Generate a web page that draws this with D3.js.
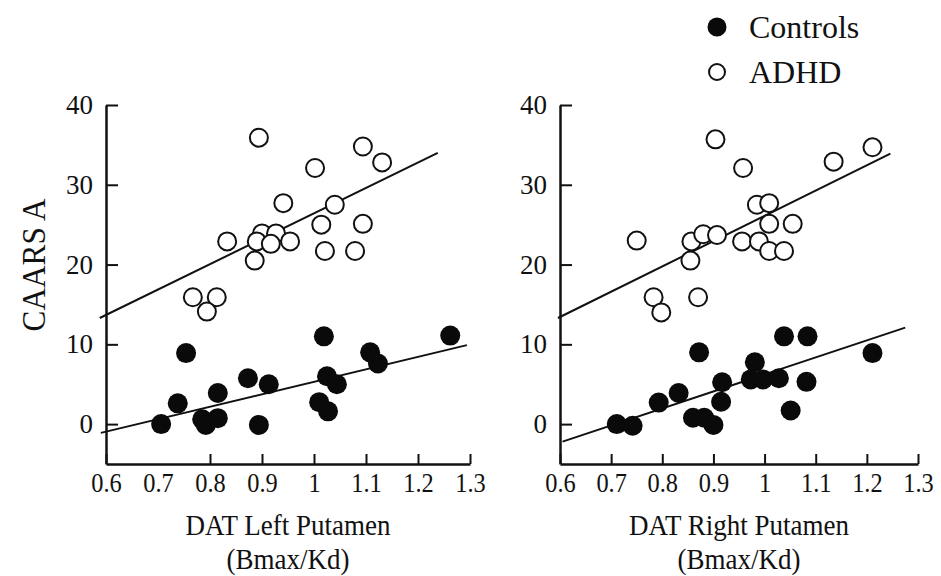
<!DOCTYPE html>
<html>
<head>
<meta charset="utf-8">
<script src="https://cdn.jsdelivr.net/npm/d3@7"></script>
<style>
  body { margin: 0; background: #fff; }
  svg text { font-family: "Liberation Serif", "Times New Roman", serif; fill: #111; }
</style>
</head>
<body>
<svg id="chart" width="941" height="576"></svg>
<script>
// values
var xTicks = [0.6, 0.7, 0.8, 0.9, 1.0, 1.1, 1.2, 1.3];
var xTickLabels = ['0.6', '0.7', '0.8', '0.9', '1', '1.1', '1.2', '1.3'];
var yTicks = [0, 10, 20, 30, 40];
var yTickLabels = ['0', '10', '20', '30', '40'];

// left putamen
var leftControlsX = [1.019, 1.262, 0.754, 1.108, 1.123, 0.873, 0.913, 1.025, 1.044, 0.815, 0.738, 1.010, 1.027, 0.706, 0.785, 0.815, 0.792, 0.894];
var leftControlsY = [11, 11.1, 8.9, 9, 7.6, 5.75, 5, 6, 5, 3.9, 2.6, 2.75, 1.6, 0, 0.6, 0.75, -0.1, -0.1];
var leftAdhdX = [0.894, 1.094, 1.131, 1.002, 0.941, 1.040, 1.014, 1.094, 0.833, 0.900, 0.890, 0.927, 0.917, 0.954, 0.886, 1.021, 1.079, 0.767, 0.813, 0.794];
var leftAdhdY = [35.9, 34.8, 32.8, 32.1, 27.7, 27.5, 25, 25.1, 22.9, 23.9, 22.9, 23.9, 22.6, 22.9, 20.5, 21.7, 21.7, 15.9, 15.9, 14.1];
var leftAdhdFit = [[0.588, 13.3], [1.238, 34.0]];
var leftControlsFit = [[0.59, -1.1], [1.294, 9.9]];

// right putamen
var rightControlsX = [1.038, 1.084, 0.872, 1.211, 0.981, 0.973, 0.997, 1.028, 1.082, 0.917, 0.915, 0.832, 0.793, 1.051, 0.711, 0.742, 0.860, 0.882, 0.900];
var rightControlsY = [11, 11, 9, 8.9, 7.75, 5.6, 5.6, 5.75, 5.3, 5.25, 2.8, 3.9, 2.7, 1.7, 0, -0.2, 0.8, 0.8, -0.1];
var rightAdhdX = [0.904, 1.211, 1.135, 0.958, 0.985, 1.009, 1.009, 1.055, 0.750, 0.857, 0.880, 0.907, 0.956, 0.989, 1.009, 1.038, 0.855, 0.783, 0.798, 0.870];
var rightAdhdY = [35.7, 34.7, 32.9, 32.1, 27.5, 27.7, 25.1, 25.1, 23, 22.9, 23.8, 23.7, 22.9, 22.9, 21.7, 21.7, 20.5, 15.9, 14, 15.9];
var rightAdhdFit = [[0.596, 13.3], [1.246, 33.9]];
var rightControlsFit = [[0.605, -2.2], [1.275, 12.1]];

var svg = d3.select('#chart');

var yScale = d3.scaleLinear().domain([-5, 40]).range([464, 105]);

// the figure's type is a little narrow, so squeeze it horizontally
function squeezedText(x, y, size, sx, str, rotate) {
    var g = svg.append('g')
        .attr('transform', 'translate(' + x + ',' + y + ')' + (rotate ? ' rotate(' + rotate + ')' : '') + ' scale(' + sx + ',1)');
    g.append('text')
        .attr('text-anchor', 'middle')
        .style('font-size', size + 'px')
        .text(str);
}

// y axis title
squeezedText(45, 265, 34, 0.92, 'CAARS A', -90);

function drawPanel(left, right, cx, cy, ax, ay, fitA, fitC, title, skipTicks) {
    var xScale = d3.scaleLinear().domain([0.6, 1.3]).range([left, right]);
    var g = svg.append('g');

    var yAxis = d3.axisLeft(yScale)
        .tickValues(yTicks)
        .tickFormat(function (d, i) { return yTickLabels[i]; })
        .tickSizeInner(-12)
        .tickSizeOuter(0)
        .tickPadding(13);
    var gy = g.append('g')
        .attr('transform', 'translate(' + left + ',0)')
        .call(yAxis);

    var xAxis = d3.axisBottom(xScale)
        .tickValues(xTicks)
        .tickFormat(function (d, i) { return xTickLabels[i]; })
        .tickSizeInner(-10)
        .tickSizeOuter(0)
        .tickPadding(8);
    var gx = g.append('g')
        .attr('transform', 'translate(0,' + yScale(-5) + ')')
        .call(xAxis);

    [gx, gy].forEach(function (a) {
        a.select('.domain').attr('stroke', '#111').attr('stroke-width', 2.5);
        a.selectAll('.tick line').attr('stroke', '#111').attr('stroke-width', 2);
        a.selectAll('.tick text').attr('fill', '#111');
    });
    gx.selectAll('.tick text').style('font-size', '28px').attr('transform', 'scale(0.87,1)');
    gy.selectAll('.tick text').style('font-size', '27px');
    gx.selectAll('.tick line').filter(function (d) { return skipTicks.indexOf(d) >= 0; }).remove();

    var line = d3.line()
        .x(function (d) { return xScale(d[0]); })
        .y(function (d) { return yScale(d[1]); });
    [fitA, fitC].forEach(function (f) {
        g.append('path')
            .attr('d', line(f))
            .attr('fill', 'none')
            .attr('stroke', '#111')
            .attr('stroke-width', 2);
    });

    g.append('g').selectAll('circle')
        .data(d3.range(ax.length))
        .enter()
        .append('circle')
        .attr('cx', function (i) { return xScale(ax[i]); })
        .attr('cy', function (i) { return yScale(ay[i]); })
        .attr('r', 9)
        .attr('fill', '#fff')
        .attr('stroke', '#111')
        .attr('stroke-width', 2);

    g.append('g').selectAll('circle')
        .data(d3.range(cx.length))
        .enter()
        .append('circle')
        .attr('cx', function (i) { return xScale(cx[i]); })
        .attr('cy', function (i) { return yScale(cy[i]); })
        .attr('r', 10)
        .attr('fill', '#0a0a0a');

    var mid = (left + right) / 2;
    squeezedText(mid, 535, 30, 0.9, title);
    squeezedText(mid, 569, 30, 0.9, '(Bmax/Kd)');
}

drawPanel(106, 470, leftControlsX, leftControlsY, leftAdhdX, leftAdhdY, leftAdhdFit, leftControlsFit, 'DAT Left Putamen', [0.7]);
drawPanel(560, 918, rightControlsX, rightControlsY, rightAdhdX, rightAdhdY, rightAdhdFit, rightControlsFit, 'DAT Right Putamen', []);

// legend
var legend = svg.append('g');
legend.append('circle').attr('cx', 717).attr('cy', 27).attr('r', 9.5).attr('fill', '#0a0a0a');
legend.append('circle').attr('cx', 717).attr('cy', 72).attr('r', 8).attr('fill', '#fff')
    .attr('stroke', '#111').attr('stroke-width', 2);
legend.append('text').attr('x', 749).attr('y', 38).style('font-size', '32px').text('Controls');
legend.append('text').attr('x', 749).attr('y', 83).style('font-size', '32px').text('ADHD');
</script>
</body>
</html>
